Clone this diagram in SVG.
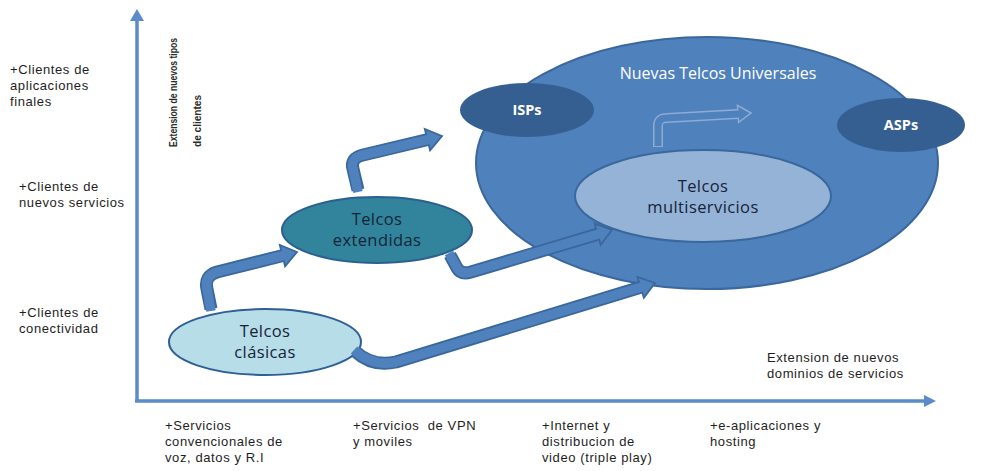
<svg xmlns="http://www.w3.org/2000/svg" width="988" height="471" viewBox="0 0 988 471">
  <style>
    .lbl { font-family: "Liberation Sans", Arial, sans-serif; font-size: 13px; letter-spacing: 0.6px; fill: #1e1e1e; }
    .vlbl { font-family: "Liberation Sans", Arial, sans-serif; font-size: 10.5px; font-weight: bold; fill: #2a2a2a; }
    .node-txt { font-family: "Open Sans", "Liberation Sans", sans-serif; font-size: 16.5px; letter-spacing: 0.4px; fill: #14243a; text-anchor: middle; }
    .node-w { font-family: "Open Sans", "Liberation Sans", sans-serif; font-size: 14.5px; font-weight: bold; fill: #ffffff; text-anchor: middle; }
    .title-w { font-family: "Open Sans", "Liberation Sans", sans-serif; font-size: 16px; fill: #ffffff; text-anchor: middle; }
    .axis { stroke: #5b8bc9; stroke-width: 3.5; fill: none; }
    .shaft-o { fill: none; stroke: #3a679c; stroke-width: 13; stroke-linejoin: round; }
    .shaft-i { fill: none; stroke: #4f81bd; stroke-width: 9.5; stroke-linejoin: round; }
    .head { fill: #4f81bd; stroke: #3a679c; stroke-width: 1.8; stroke-linejoin: miter; }
    .shaft-o2 { fill: none; stroke: #8eabd3; stroke-width: 10; stroke-linejoin: round; }
    .shaft-i2 { fill: none; stroke: #4f81bd; stroke-width: 7; stroke-linejoin: round; }
    .head2 { fill: #4f81bd; stroke: #8eabd3; stroke-width: 1.5; }
  </style>
  <defs>
    <polygon id="ah" points="0,0 -15,-11 -15,11"/>
    <polygon id="ah2" points="0,0 -13,-8.5 -13,8.5"/>
  </defs>

  <rect width="988" height="471" fill="#ffffff"/>

  <!-- axes -->
  <g id="axes">
    <line class="axis" x1="137" y1="401" x2="137" y2="18"/>
    <polygon points="137,9 130,21 144,21" fill="#5b8bc9"/>
    <line class="axis" x1="135" y1="401" x2="926" y2="401"/>
    <polygon points="936,401 924,395 924,407" fill="#5b8bc9"/>
  </g>

  <!-- axis labels -->
  <g id="y-labels" class="lbl">
    <text x="10" y="74">+Clientes de</text>
    <text x="10" y="90">aplicaciones</text>
    <text x="10" y="106">finales</text>
    <text x="19" y="191">+Clientes de</text>
    <text x="19" y="207">nuevos servicios</text>
    <text x="19" y="317">+Clientes de</text>
    <text x="19" y="333">conectividad</text>
  </g>
  <g id="y-title" class="vlbl">
    <text transform="translate(177,147) rotate(-90)" textLength="109" lengthAdjust="spacingAndGlyphs">Extension de nuevos tipos</text>
    <text transform="translate(201,147) rotate(-90)" textLength="52" lengthAdjust="spacingAndGlyphs">de clientes</text>
  </g>
  <g id="x-title" class="lbl">
    <text x="767" y="362">Extension de nuevos</text>
    <text x="767" y="378">dominios de servicios</text>
  </g>
  <g id="x-labels" class="lbl">
    <text x="165" y="430">+Servicios</text>
    <text x="165" y="446">convencionales de</text>
    <text x="165" y="462">voz, datos y R.I</text>
    <text x="353" y="430" xml:space="preserve">+Servicios  de VPN</text>
    <text x="353" y="446">y moviles</text>
    <text x="542" y="430">+Internet y</text>
    <text x="542" y="446">distribucion de</text>
    <text x="542" y="462">video (triple play)</text>
    <text x="710" y="430">+e-aplicaciones y</text>
    <text x="710" y="446">hosting</text>
  </g>

  <!-- nodes -->
  <g id="nuevas-telcos-universales">
    <ellipse cx="707" cy="163" rx="231" ry="126" fill="#4f81bd" stroke="#3a679c" stroke-width="2"/>
    <text x="718" y="79" class="title-w">Nuevas Telcos Universales</text>
  </g>
  <g id="isps">
    <ellipse cx="527" cy="110" rx="67" ry="27" fill="#365f91"/>
    <text x="527" y="115" class="node-w">ISPs</text>
  </g>
  <g id="asps">
    <ellipse cx="901" cy="125" rx="64" ry="27" fill="#365f91"/>
    <text x="901" y="130" class="node-w">ASPs</text>
  </g>
  <g id="telcos-multiservicios">
    <ellipse cx="703" cy="196" rx="128" ry="46" fill="#95b3d7" stroke="#3a679c" stroke-width="2"/>
    <text x="703" y="192" class="node-txt">Telcos</text>
    <text x="703" y="213" class="node-txt">multiservicios</text>
  </g>
  <g id="telcos-extendidas">
    <ellipse cx="377" cy="230" rx="95" ry="33" fill="#31849b" stroke="#2b5f8f" stroke-width="2"/>
    <text x="377" y="225" class="node-txt">Telcos</text>
    <text x="377" y="246" class="node-txt">extendidas</text>
  </g>
  <g id="telcos-clasicas">
    <ellipse cx="265" cy="342" rx="96" ry="33" fill="#b7dde8" stroke="#2f5f95" stroke-width="2"/>
    <text x="265" y="337" class="node-txt">Telcos</text>
    <text x="265" y="358" class="node-txt">clásicas</text>
  </g>

  <!-- connectors: bent block arrows -->
  <g id="connectors">
    <!-- clasicas -> extendidas -->
    <path class="shaft-o" d="M 211 309 L 207 289 Q 204 276 217 272 L 285 255"/>
    <use href="#ah" class="head" transform="translate(297,252) rotate(-14)"/>
    <path class="shaft-i" d="M 211 311 L 207 289 Q 204 276 217 272 L 286 254.8"/>

    <!-- extendidas -> ISPs -->
    <path class="shaft-o" d="M 358 190 L 353 169 Q 350 158 363 155 L 430 139"/>
    <use href="#ah" class="head" transform="translate(442,136) rotate(-14)"/>
    <path class="shaft-i" d="M 358 192 L 353 169 Q 350 158 363 155 L 431 138.8"/>

    <!-- extendidas -> multiservicios -->
    <path class="shaft-o" d="M 450 255 L 457 268 Q 461 275 471 272 L 600 233.5"/>
    <use href="#ah" class="head" transform="translate(612,230) rotate(-16)"/>
    <path class="shaft-i" d="M 449 253 L 457 268 Q 461 275 471 272 L 601 233.2"/>

    <!-- clasicas -> nuevas telcos universales -->
    <path class="shaft-o" d="M 356 352 Q 372 367 396 362 L 643 286.5"/>
    <use href="#ah" class="head" transform="translate(655,283) rotate(-17)"/>
    <path class="shaft-i" d="M 354 350 Q 372 367 396 362 L 644 286.2"/>

    <!-- multiservicios -> outward -->
    <path class="shaft-o2" d="M 658 147 L 658 126 Q 658 118 667 118 L 738 114"/>
    <use href="#ah2" class="head2" transform="translate(751,113) rotate(-4)"/>
    <path class="shaft-i2" d="M 658 146 L 658 126 Q 658 118 667 118 L 739 113.9"/>
  </g>
</svg>
